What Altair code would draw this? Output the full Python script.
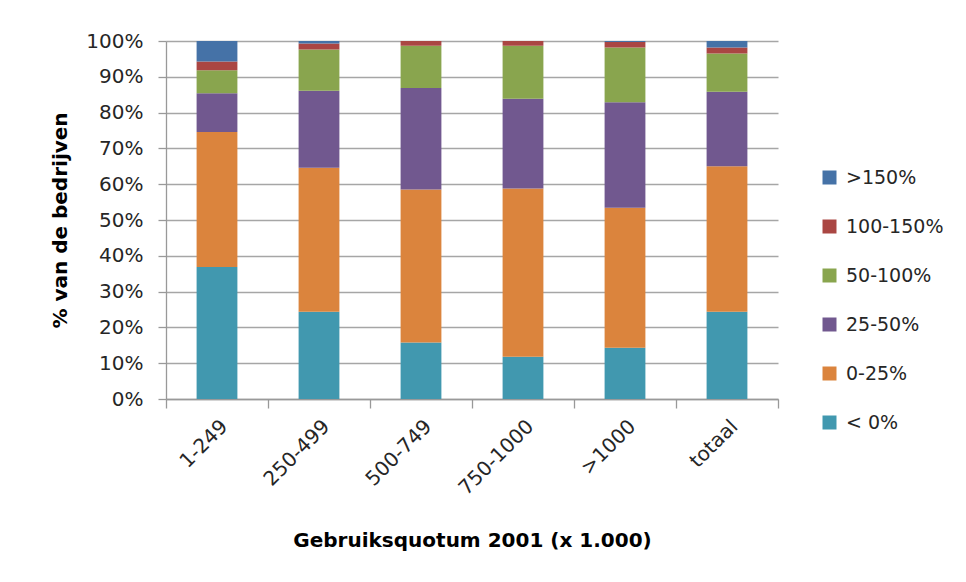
import altair as alt
import pandas as pd

categories = ["1-249", "250-499", "500-749", "750-1000", ">1000", "totaal"]
series = ["< 0%", "0-25%", "25-50%", "50-100%", "100-150%", ">150%"]
colors = ["#4198AF", "#DB843D", "#71588F", "#89A54E", "#AA4643", "#4572A7"]

v_lt0 = [36.9, 24.4, 15.8, 11.8, 14.3, 24.4]
v_0_25 = [37.7, 40.2, 42.7, 47.0, 39.1, 40.6]
v_25_50 = [10.8, 21.5, 28.4, 25.1, 29.5, 20.8]
v_50_100 = [6.4, 11.5, 11.8, 14.8, 15.3, 10.7]
v_100_150 = [2.5, 1.7, 1.3, 1.3, 1.5, 1.7]
v_gt150 = [5.7, 0.7, 0.0, 0.0, 0.3, 1.8]

values = [v_lt0, v_0_25, v_25_50, v_50_100, v_100_150, v_gt150]

rows = []
for si, (s, vals) in enumerate(zip(series, values)):
    for c, v in zip(categories, vals):
        rows.append({"cat": c, "serie": s, "val": v, "idx": si})
df = pd.DataFrame(rows)

legend_order = list(reversed(series))
legend_colors = list(reversed(colors))

chart = alt.Chart(df).mark_bar(width={"band": 0.4}).encode(
    x=alt.X("cat:N", sort=categories,
            scale=alt.Scale(paddingInner=0, paddingOuter=0),
            axis=alt.Axis(title="Gebruiksquotum  2001 (x 1.000)", labelAngle=315,
                          labelAlign="right", labelBaseline="top",
                          tickBand="extent", ticks=True, tickSize=9,
                          tickColor="#999999", domainColor="#999999",
                          labelFont="DejaVu Sans", labelFontSize=20,
                          labelColor="#262626", labelPadding=8,
                          titleFont="DejaVu Sans", titleFontSize=20,
                          titleFontWeight="bold", titleColor="#000000",
                          titleBaseline="middle", titleY=141, grid=False)),
    y=alt.Y("val:Q", stack="zero",
            scale=alt.Scale(domain=[0, 100], nice=False),
            axis=alt.Axis(title="% van de bedrijven", values=list(range(0, 101, 10)),
                          labelExpr="datum.value + '%'",
                          tickSize=8, tickColor="#999999", domainColor="#999999",
                          gridColor="#A6A6A6", gridWidth=1.3,
                          labelFont="DejaVu Sans", labelFontSize=20,
                          labelColor="#262626", labelPadding=15,
                          titleFont="DejaVu Sans", titleFontSize=20,
                          titleFontWeight="bold", titleColor="#000000",
                          titleX=-106, titleY=179, titleBaseline="middle")),
    color=alt.Color("serie:N",
                    scale=alt.Scale(domain=legend_order, range=legend_colors),
                    legend=alt.Legend(title=None, orient="none", legendX=654, legendY=127,
                                      symbolType="square", symbolSize=196,
                                      symbolStrokeWidth=0, labelFont="DejaVu Sans",
                                      labelFontSize=19, labelColor="#262626",
                                      labelOffset=7, rowPadding=29, padding=0)),
    order=alt.Order("idx:Q", sort="ascending"),
).properties(
    width=612, height=358,
    autosize=alt.AutoSizeParams(type="none"),
    padding={"left": 158, "top": 33, "right": 180, "bottom": 175},
).configure_view(stroke=None).configure_axis(domainWidth=1.3, tickWidth=1.3)

chart.save("out.html", embed_options={"renderer": "svg", "actions": False})
